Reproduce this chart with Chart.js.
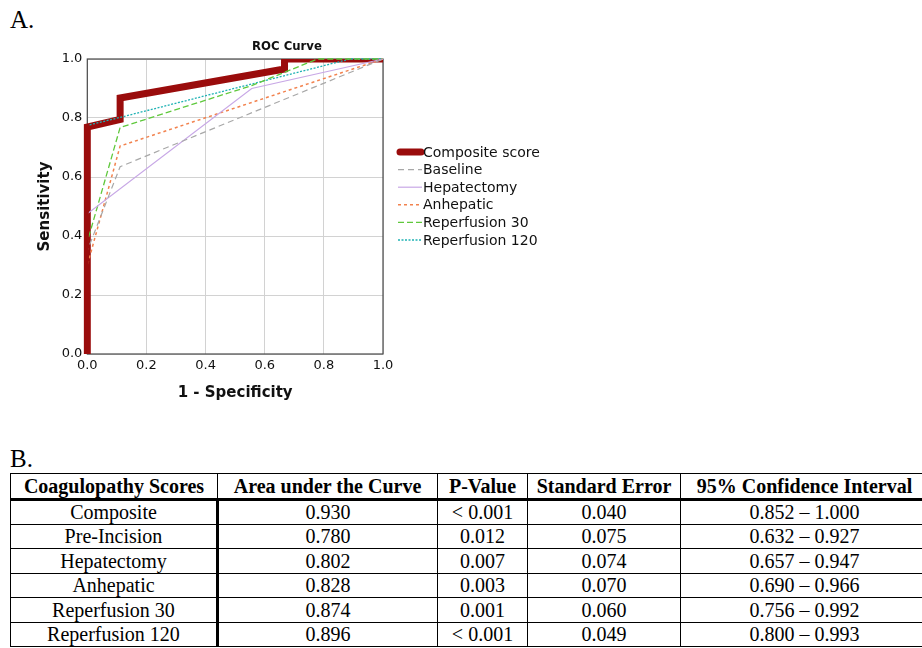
<!DOCTYPE html>
<html>
<head>
<meta charset="utf-8">
<script src="https://cdn.jsdelivr.net/npm/chart.js@4.4.0/dist/chart.umd.min.js"></script>
<style>
  html, body { margin: 0; padding: 0; background: #fff; }
  body { width: 922px; height: 648px; position: relative; overflow: hidden; }
  .panel-label { position: absolute; left: 10px; font-family: 'Liberation Serif', 'Times New Roman', serif; font-size: 25px; color: #000; }
  #chart { position: absolute; left: 0; top: 0; }
  #stats { position: absolute; left: 10px; top: 473px; border-collapse: collapse; table-layout: fixed; width: 918px;
           font-family: 'Liberation Serif', 'Times New Roman', serif; font-size: 20px; color: #000; }
  #stats th, #stats td { border: 1px solid #000; text-align: center; padding: 0; white-space: nowrap; line-height: 22px; }
  #stats thead tr { height: 26px; }
  #stats tbody tr { height: 24.5px; }
  #stats thead th { border-bottom: 3px solid #000; }
  #stats tbody td:first-child { border-right: 3px solid #000; }
</style>
</head>
<body>
<div class="panel-label" style="top:6px">A.</div>
<canvas id="chart" width="600" height="420"></canvas>
<div class="panel-label" style="top:445px">B.</div>
<table id="stats">
  <colgroup><col style="width:207px"><col style="width:220px"><col style="width:90px"><col style="width:153px"><col style="width:248px"></colgroup>
  <thead><tr id="stats-head"></tr></thead>
  <tbody id="stats-body"></tbody>
</table>
<script>
// ROC curves (x = 1 - specificity, y = sensitivity)
const seriesNames = ['Composite score', 'Baseline', 'Hepatectomy', 'Anhepatic', 'Reperfusion 30', 'Reperfusion 120'];

const compositeFpr = [0, 0, 0.111, 0.111, 0.667, 0.667, 1];
const compositeTpr = [0, 0.769, 0.795, 0.868, 0.966, 1, 1];

const baselineFpr = [0, 0, 0.111, 1];
const baselineTpr = [0, 0.35, 0.635, 1];

const hepatectomyFpr = [0, 0, 0.556, 1];
const hepatectomyTpr = [0, 0.475, 0.9, 1];

const anhepaticFpr = [0, 0, 0.111, 1];
const anhepaticTpr = [0, 0.30, 0.705, 1];

const reperf30Fpr = [0, 0, 0.111, 0.556, 0.778, 1];
const reperf30Tpr = [0, 0.38, 0.768, 0.91, 1, 1];

const reperf120Fpr = [0, 0, 0.111, 0.889, 1];
const reperf120Tpr = [0, 0.775, 0.802, 1, 1];

const axisTicks = [0, 0.2, 0.4, 0.6, 0.8, 1.0];

// table B
const tableHeaders = ['Coagulopathy Scores', 'Area under the Curve', 'P-Value', 'Standard Error', '95% Confidence Interval'];
const scoreNames = ['Composite', 'Pre-Incision', 'Hepatectomy', 'Anhepatic', 'Reperfusion 30', 'Reperfusion 120'];
const aucValues = ['0.930', '0.780', '0.802', '0.828', '0.874', '0.896'];
const pValues = ['< 0.001', '0.012', '0.007', '0.003', '0.001', '< 0.001'];
const stdErrors = ['0.040', '0.075', '0.074', '0.070', '0.060', '0.049'];
const ciValues = ['0.852 – 1.000', '0.632 – 0.927', '0.657 – 0.947', '0.690 – 0.966', '0.756 – 0.992', '0.800 – 0.993'];

function toPoints(xs, ys) {
    return xs.map((x, i) => ({ x: x, y: ys[i] }));
}

const seriesStyles = [
    { color: '#9a0c0c', width: 7, dash: [], order: 1 },
    { color: '#a8a8a8', width: 1.2, dash: [6, 4], order: 0 },
    { color: '#c8a8e6', width: 1.2, dash: [], order: 0 },
    { color: '#f2824e', width: 1.5, dash: [3, 3], order: 0 },
    { color: '#5fc83c', width: 1.3, dash: [6, 3], order: 0 },
    { color: '#1fb2b4', width: 1.3, dash: [2, 1.5], order: 0 }
];

const seriesData = [
    toPoints(compositeFpr, compositeTpr),
    toPoints(baselineFpr, baselineTpr),
    toPoints(hepatectomyFpr, hepatectomyTpr),
    toPoints(anhepaticFpr, anhepaticTpr),
    toPoints(reperf30Fpr, reperf30Tpr),
    toPoints(reperf120Fpr, reperf120Tpr)
];

const datasets = seriesNames.map((name, i) => ({
    label: name,
    data: seriesData[i],
    showLine: true,
    borderColor: seriesStyles[i].color,
    backgroundColor: seriesStyles[i].color,
    borderWidth: seriesStyles[i].width,
    borderDash: seriesStyles[i].dash,
    borderJoinStyle: 'miter',
    pointRadius: 0,
    pointHoverRadius: 0,
    fill: false,
    order: seriesStyles[i].order,
    // thin curves hide their first vertical run under the composite line
    clip: i === 0 ? { left: 4, top: 0, right: 2, bottom: 0 } : { left: -1.5, top: 1, right: 1, bottom: 0 }
}));

// frame around the plot, the title and the side legend
const spssDecor = {
    id: 'spssDecor',
    beforeDatasetsDraw(chart) {
        const { ctx, chartArea: a } = chart;
        ctx.save();
        ctx.strokeStyle = '#4a4a4a';
        ctx.lineWidth = 1.2;
        ctx.strokeRect(a.left, a.top, a.right - a.left, a.bottom - a.top);
        ctx.restore();
    },
    afterDraw(chart) {
        const ctx = chart.ctx;
        ctx.save();
        ctx.fillStyle = '#111';
        ctx.font = "bold 13px 'DejaVu Sans Condensed', 'DejaVu Sans', sans-serif";
        ctx.textAlign = 'center';
        ctx.textBaseline = 'middle';
        ctx.fillText('ROC Curve', 287, 47);

        ctx.textAlign = 'left';
        ctx.font = "14px 'DejaVu Sans', sans-serif";
        chart.data.datasets.forEach((ds, i) => {
            const y = 152 + i * 17.6;
            ctx.strokeStyle = ds.borderColor;
            ctx.lineWidth = ds.borderWidth;
            ctx.lineCap = i === 0 ? 'round' : 'butt';
            ctx.setLineDash(ds.borderDash);
            ctx.beginPath();
            ctx.moveTo(i === 0 ? 400 : 398, y);
            ctx.lineTo(i === 0 ? 421 : 422, y);
            ctx.stroke();
            ctx.setLineDash([]);
            ctx.fillStyle = '#111';
            ctx.fillText(ds.label, 423, y + 1);
        });
        ctx.restore();
    }
};

const tickFont = { family: "'DejaVu Sans', sans-serif", size: 13 };

new Chart(document.getElementById('chart'), {
    type: 'scatter',
    data: { datasets: datasets },
    options: {
        responsive: false,
        animation: false,
        layout: { padding: { left: 32, top: 59, right: 217, bottom: 14 } },
        plugins: { legend: { display: false }, tooltip: { enabled: false } },
        scales: {
            x: {
                type: 'linear', min: 0, max: 1,
                afterFit: scale => { scale.height = 52; },
                afterBuildTicks: scale => { scale.ticks = axisTicks.map(v => ({ value: v })); },
                ticks: { padding: 4, color: '#111', font: tickFont, callback: v => v.toFixed(1) },
                grid: { color: '#d2d2d2', drawTicks: false },
                border: { display: false },
                title: { display: true, text: '1 - Specificity', color: '#111', padding: { top: 4, bottom: 4 },
                         font: { family: "'DejaVu Sans', sans-serif", size: 15, weight: 'bold' } }
            },
            y: {
                type: 'linear', min: 0, max: 1,
                afterFit: scale => { scale.width = 55.3; },
                afterBuildTicks: scale => { scale.ticks = axisTicks.map(v => ({ value: v })); },
                ticks: { padding: 5, color: '#111', font: tickFont, callback: v => v.toFixed(1) },
                grid: { color: '#d2d2d2', drawTicks: false },
                border: { display: false },
                title: { display: true, text: 'Sensitivity', color: '#111', padding: { top: 4, bottom: 4 },
                         font: { family: "'DejaVu Sans', sans-serif", size: 15, weight: 'bold' } }
            }
        }
    },
    plugins: [spssDecor]
});

// build the table
const headRow = document.getElementById('stats-head');
tableHeaders.forEach(h => {
    const th = document.createElement('th');
    th.textContent = h;
    headRow.appendChild(th);
});
const body = document.getElementById('stats-body');
scoreNames.forEach((name, i) => {
    const tr = document.createElement('tr');
    [name, aucValues[i], pValues[i], stdErrors[i], ciValues[i]].forEach(v => {
        const td = document.createElement('td');
        td.textContent = v;
        tr.appendChild(td);
    });
    body.appendChild(tr);
});
</script>
</body>
</html>
